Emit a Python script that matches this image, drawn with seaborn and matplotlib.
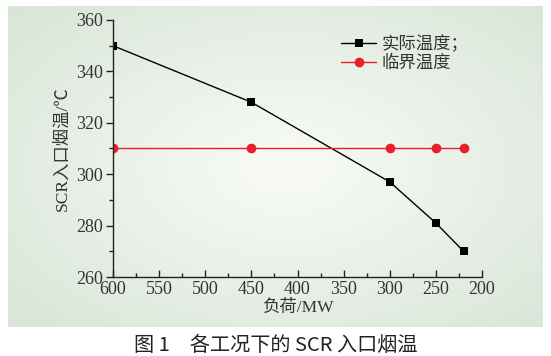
import numpy as np
import pandas as pd
import matplotlib
matplotlib.use("Agg")
import matplotlib.pyplot as plt
from matplotlib.colors import LinearSegmentedColormap
from matplotlib.ticker import MultipleLocator
import seaborn as sns

load = [600, 450, 300, 250, 220]
actual_temp = [350, 328, 297, 281, 270]
critical_temp = [310, 310, 310, 310, 310]
series_names = ["实际温度；", "临界温度"]
x_label = "负荷/MW"
y_label = "SCR入口烟温/℃"
caption = "图 1　各工况下的 SCR 入口烟温"

sns.set_style("ticks")
plt.rcParams['font.family'] = ['Liberation Serif', 'Noto Sans CJK SC']
plt.rcParams['mathtext.fontset'] = 'stix'

fig = plt.figure(figsize=(5.51, 3.56), dpi=100)

# background gradient panel
bg = fig.add_axes([8/551, 1-327/356, (543-8)/551, (327-6)/356], zorder=0)
ny, nx = 200, 300
yy, xx = np.mgrid[0:ny, 0:nx]
cx, cy = nx*0.52, ny*0.50
r = np.sqrt(((xx-cx)/nx)**2 + ((yy-cy)/ny)**2)
r = r / r.max()
cmap = LinearSegmentedColormap.from_list("g", ["#f9fbf7", "#e9f0e7", "#d8e5d7"])
bg.imshow(r, cmap=cmap, aspect='auto', extent=[0, 1, 0, 1])
bg.axis('off')

ax = fig.add_axes([113/551, 1-277/356, (482-113)/551, (277-20)/356], zorder=1)
ax.patch.set_alpha(0)

df_a = pd.DataFrame({"load": load, "temp": actual_temp})
df_c = pd.DataFrame({"load": load, "temp": critical_temp})
sns.lineplot(data=df_a, x="load", y="temp", ax=ax, color="black", marker="s",
             markersize=6, markeredgewidth=0, linewidth=1.0, label=series_names[0], sort=False)
sns.lineplot(data=df_c, x="load", y="temp", ax=ax, color="#e8202a", marker="o",
             markersize=7, markeredgewidth=0, linewidth=1.0, label=series_names[1], sort=False)

ax.set_xlim(600, 200)
ax.set_ylim(260, 360)
ax.xaxis.set_major_locator(MultipleLocator(50))
ax.xaxis.set_minor_locator(MultipleLocator(25))
ax.yaxis.set_major_locator(MultipleLocator(20))
ax.yaxis.set_minor_locator(MultipleLocator(10))
for s in ["top", "right"]:
    ax.spines[s].set_visible(False)
for s in ["left", "bottom"]:
    ax.spines[s].set_linewidth(1.0)
    ax.spines[s].set_color("#222222")
ax.tick_params(axis='x', which='both', direction='in', colors="#222222", labelsize=13, pad=3)
ax.tick_params(axis='y', which='both', direction='out', colors="#222222", labelsize=13, pad=2)
ax.tick_params(which='major', length=5, width=1)
ax.tick_params(which='minor', length=3, width=1)
for lab in ax.get_xticklabels() + ax.get_yticklabels():
    lab.set_color("#333333")

ax.set_xlabel(x_label, fontsize=12.5, color="#333333", labelpad=1)
ax.set_ylabel(y_label, fontsize=12.5, color="#333333", labelpad=4)

leg = ax.legend(loc="upper left", bbox_to_anchor=(0.6, 0.965), frameon=False,
                fontsize=12.5, handlelength=2.0, handletextpad=0.3, labelspacing=0.1,
                borderaxespad=0)
for t in leg.get_texts():
    t.set_color("#333333")

fig.text(0.5, 1-345/356, caption, ha='center', va='center', fontsize=14.5, weight='medium',
         family=['Noto Sans CJK SC', 'DejaVu Sans'], color="#222222")

fig.savefig("out.png", dpi=100)
